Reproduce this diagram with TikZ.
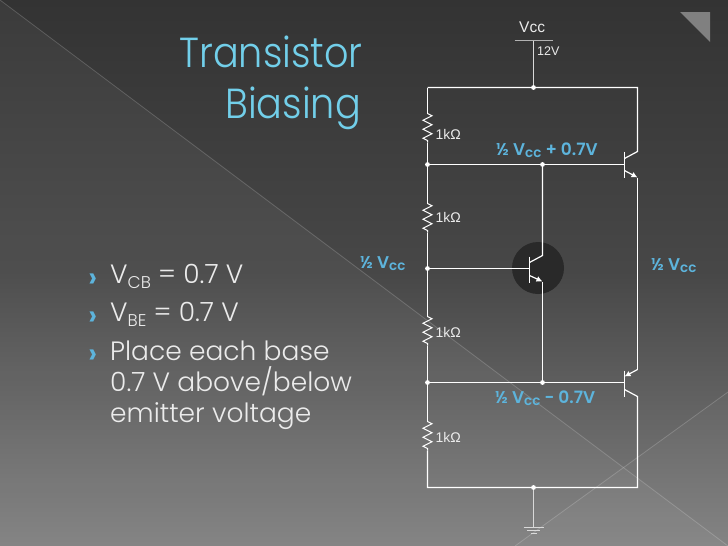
\documentclass[tikz,border=0pt]{standalone}
\usepackage{fontspec}
\setmainfont{Liberation Sans}
\newfontfamily\gothfont{Poppins Light}
\newfontfamily\gothbold{Poppins SemiBold}
\newfontfamily\headfont[FakeStretch=0.91]{Poppins Light}
\usepackage{tikz}
\usetikzlibrary{decorations.pathmorphing}
\usetikzlibrary{arrows.meta}
\definecolor{titleblue}{HTML}{72CFEA}
\definecolor{labelblue}{HTML}{5DB4DC}
\tikzset{
wire/.style={white,line width=1.2pt},
res/.style={wire,line width=1pt,decorate,decoration={zigzag,segment length=9pt,amplitude=4.5pt}},
junct/.style={circle,fill=white,inner sep=0pt,minimum size=4.8pt},
halfv/.style={labelblue,font=\gothbold\fontsize{17}{19}\selectfont,anchor=base west,inner sep=0pt},
ohm/.style={white!92!black,font=\fontsize{14}{16}\selectfont,anchor=base west,inner sep=0pt},
bullet/.style={white!92!black,font=\gothfont\fontsize{26.5}{30}\selectfont,anchor=base west,inner sep=0pt},
chev/.style={labelblue,font=\gothbold\fontsize{29}{30}\selectfont,anchor=base west,inner sep=0pt},
headline/.style={titleblue,font=\headfont\fontsize{42}{50}\selectfont,anchor=base east,inner sep=0pt},
}
\begin{document}
\begin{tikzpicture}[x=1pt,y=-1pt]
\useasboundingbox (0,0) rectangle (728,546);
% background
\shade[top color=black!80!white,bottom color=black!50!white,middle color=black!72!white] (0,0) rectangle (728,546);
\fill[white,opacity=0.045] (0,0) -- (728,546) -- (0,546) -- cycle;
\fill[white,opacity=0.03] (515,546) -- (728,392) -- (728,546) -- cycle;
\draw[white,opacity=0.18,line width=0.8pt] (0,0) -- (728,546);
\draw[white,opacity=0.18,line width=0.8pt] (515,546) -- (728,392);
\fill[black!50!white] (680,12) -- (710,12) -- (710,42) -- cycle;
% title and bullets
\node[headline] (title1) at (363,67) {Transistor};
\node[headline] (title2) at (361,118) {Biasing};
\node[chev] (c1) at (88,287) {›};
\node[chev] (c2) at (88,325) {›};
\node[chev] (c3) at (88,363) {›};
\node[bullet] (b1) at (110,283) {V\raisebox{-5pt}{\fontsize{17}{17}\selectfont CB} = 0.7 V};
\node[bullet] (b2) at (110,321) {V\raisebox{-5pt}{\fontsize{17}{17}\selectfont BE} = 0.7 V};
\node[bullet] (b3) at (110,360) {Place each base};
\node[bullet] (b4) at (110,391) {0.7 V above/below};
\node[bullet] (b5) at (110,422) {emitter voltage};
% highlight behind the middle transistor
\fill[black!84!white] (538,268) circle [radius=26];
\begin{scope}[shift={(0.5,0.5)}]
% junctions
\node[junct] (top) at (533,87) {};
\node[junct] (bot) at (533,487) {};
\node[junct] (la) at (427,164) {};
\node[junct] (lb) at (427,268) {};
\node[junct] (lc) at (427,382) {};
\node[junct] (ma) at (542,164) {};
\node[junct] (mb) at (542,382) {};
% corners and ends
\coordinate (vcc) at (533,40);
\coordinate (vl) at (514,40);
\coordinate (vr) at (552,40);
\coordinate (tl) at (427,87);
\coordinate (tr) at (637,87);
\coordinate (bl) at (427,487);
\coordinate (br) at (637,487);
% resistors
\coordinate (r1a) at (427,113);
\coordinate (r1b) at (427,142);
\coordinate (r2a) at (427,203);
\coordinate (r2b) at (427,232);
\coordinate (r3a) at (427,316);
\coordinate (r3b) at (427,345);
\coordinate (r4a) at (427,421);
\coordinate (r4b) at (427,450);
% upper transistor
\coordinate (qab1) at (624,151);
\coordinate (qab2) at (624,177);
\coordinate (qab) at (624,164);
\coordinate (qac1) at (624,158);
\coordinate (qac2) at (637,151);
\coordinate (qae1) at (624,170);
\coordinate (qae2) at (637,177);
% middle transistor
\coordinate (qbb1) at (529,256);
\coordinate (qbb2) at (529,282);
\coordinate (qbb) at (529,268);
\coordinate (qbc1) at (529,262);
\coordinate (qbc2) at (542,255);
\coordinate (qbe1) at (529,275);
\coordinate (qbe2) at (542,281);
% lower transistor
\coordinate (qcb1) at (624,370);
\coordinate (qcb2) at (624,396);
\coordinate (qcb) at (624,382);
\coordinate (qce1) at (637,369);
\coordinate (qce2) at (624,376);
\coordinate (qcc1) at (624,389);
\coordinate (qcc2) at (637,396);
% ground
\coordinate (gnd) at (533,527);
\coordinate (g1a) at (523,527);
\coordinate (g1b) at (543,527);
\coordinate (g2a) at (526.5,530);
\coordinate (g2b) at (539.5,530);
\coordinate (g3a) at (530,533);
\coordinate (g3b) at (536,533);
% wiring
\draw[white!70!black,line width=0.6pt] (vl) -- (vr);
\draw[white!85!black,line width=1.2pt] (vcc) -- (top);
\draw[wire] (tl) -- (tr) -- (qac2) -- (qac1);
\draw[wire] (tl) -- (r1a);
\draw[res] (r1a) -- (r1b);
\draw[wire] (r1b) -- (la) -- (r2a);
\draw[res] (r2a) -- (r2b);
\draw[wire] (r2b) -- (lb) -- (r3a);
\draw[res] (r3a) -- (r3b);
\draw[wire] (r3b) -- (lc) -- (r4a);
\draw[res] (r4a) -- (r4b);
\draw[wire] (r4b) -- (bl) -- (br) -- (qcc2) -- (qcc1);
\draw[wire] (la) -- (qab);
\draw[wire] (lb) -- (qbb);
\draw[wire] (lc) -- (qcb);
\draw[wire] (ma) -- (qbc2) -- (qbc1);
\draw[wire] (mb) -- (qbe2);
\draw[wire] (qae2) -- (qce1);
\draw[wire] (qab1) -- (qab2);
\draw[wire] (qbb1) -- (qbb2);
\draw[wire] (qcb1) -- (qcb2);
\draw[wire,-{Latex[length=6pt,width=6pt]}] (qae1) -- (qae2);
\draw[wire,-{Latex[length=6pt,width=6pt]}] (qbe1) -- (qbe2);
\draw[wire,-{Latex[length=6pt,width=6pt]}] (qce1) -- (qce2);
\draw[white!85!black,line width=1.2pt] (bot) -- (gnd);
\draw[white!85!black,line width=0.8pt] (g1a) -- (g1b);
\draw[white!85!black,line width=0.8pt] (g2a) -- (g2b);
\draw[white!85!black,line width=0.8pt] (g3a) -- (g3b);
\end{scope}
% labels
\node[ohm] (lv) at (519,32) {\fontsize{15.5}{17}\selectfont Vcc};
\node[ohm] (lw) at (537,55) {\fontsize{12.5}{14}\selectfont 12V};
\node[ohm] (l1) at (435.5,139) {1kΩ};
\node[ohm] (l2) at (435.5,222.5) {1kΩ};
\node[ohm] (l3) at (435.5,337) {1kΩ};
\node[ohm] (l4) at (435.5,442) {1kΩ};
\node[halfv] (hp) at (496,155) {½ V\raisebox{-2.5pt}{\fontsize{13.5}{13.5}\selectfont cc} + 0.7V};
\node[halfv] (hl) at (360,268) {½ V\raisebox{-2.5pt}{\fontsize{13.5}{13.5}\selectfont cc}};
\node[halfv] (hr) at (651,270) {½ V\raisebox{-2.5pt}{\fontsize{13.5}{13.5}\selectfont cc}};
\node[halfv] (hm) at (495,403) {½ V\raisebox{-2.5pt}{\fontsize{13.5}{13.5}\selectfont cc} - 0.7V};
\end{tikzpicture}
\end{document}
